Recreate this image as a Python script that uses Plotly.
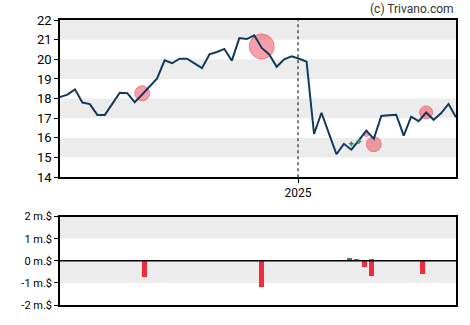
import pandas as pd
import plotly.graph_objects as go
from plotly.subplots import make_subplots

# Weekly closing prices (USD)
week_start = "2024-05-23"
prices = [18.08, 18.2, 18.47, 17.8, 17.72, 17.17, 17.17, 17.72, 18.3, 18.28,
          17.82, 18.21, 18.62, 19.03, 19.95, 19.8, 20.03, 20.03, 19.79, 19.55,
          20.25, 20.37, 20.53, 19.93, 21.08, 21.03, 21.22, 20.58, 20.25, 19.62,
          20.0, 20.15, 20.03, 19.88, 16.2, 17.28, 16.22, 15.17, 15.7, 15.4,
          15.87, 16.37, 15.95, 17.12, 17.15, 17.18, 16.12, 17.08, 16.85, 17.29,
          16.92, 17.25, 17.73, 17.05]
dates = pd.date_range(week_start, periods=len(prices), freq="7D")

# Insider sales shown on the price line (week, price level, marker size)
sell_dates = ["2024-08-08", "2024-11-28", "2025-03-06", "2025-03-13", "2025-05-01"]
sell_levels = [18.27, 20.65, 16.2, 15.68, 17.3]
sell_sizes = [15, 25, 5, 15, 13]

# Insider purchases shown on the price line
buy_dates = ["2025-02-20", "2025-02-27"]
buy_levels = [15.7, 15.82]

# Transaction volume in millions of dollars
vol_buy_dates = ["2025-02-18", "2025-02-25", "2025-03-11"]
vol_buy = [0.14, 0.1, 0.1]
vol_sell_dates = ["2024-08-10", "2024-11-28", "2025-03-04", "2025-03-11", "2025-04-28"]
vol_sell = [-0.73, -1.18, -0.25, -0.65, -0.6]

price_ticks = [14, 15, 16, 17, 18, 19, 20, 21, 22]
vol_ticks = [-2, -1, 0, 1, 2]
vol_tick_text = ["-2 m.$", "-1 m.$", "0 m.$", "1 m.$", "2 m.$"]

x_range = [dates[0], dates[-1]]
FONT = "Roboto, Arial, sans-serif"
STRIPE = "#ececec"
RED = "#ef2b40"
GREEN = "#2e8b57"
LINE = "#133a5c"

fig = make_subplots(rows=2, cols=1, shared_xaxes=False)

fig.add_trace(go.Scatter(
    x=sell_dates, y=sell_levels, mode="markers",
    marker=dict(size=sell_sizes, color="rgba(236,40,58,0.62)",
                line=dict(color="rgba(236,40,58,0.75)", width=1)),
    hoverinfo="skip", showlegend=False), row=1, col=1)
fig.add_trace(go.Scatter(
    x=dates, y=prices, mode="lines",
    line=dict(color=LINE, width=2), showlegend=False), row=1, col=1)
fig.add_trace(go.Scatter(
    x=buy_dates, y=buy_levels, mode="markers",
    marker=dict(size=4, color=GREEN, symbol="cross"),
    showlegend=False), row=1, col=1)

bar_w = 4.7 * 86400000
fig.add_trace(go.Bar(x=vol_buy_dates, y=vol_buy, width=bar_w,
                     marker=dict(color=GREEN, line=dict(width=0)),
                     showlegend=False), row=2, col=1)
fig.add_trace(go.Bar(x=vol_sell_dates, y=vol_sell, width=bar_w,
                     marker=dict(color=RED, line=dict(width=0)),
                     showlegend=False), row=2, col=1)

shapes = []
# Alternating horizontal stripes
for lo in [15, 17, 19, 21]:
    shapes.append(dict(type="rect", xref="x domain", yref="y", x0=0, x1=1,
                       y0=lo, y1=lo + 1, fillcolor=STRIPE, line=dict(width=0),
                       layer="below"))
for lo in [-1, 1]:
    shapes.append(dict(type="rect", xref="x2 domain", yref="y2", x0=0, x1=1,
                       y0=lo, y1=lo + 1, fillcolor=STRIPE, line=dict(width=0),
                       layer="below"))
# Year boundary marker
shapes.append(dict(type="line", xref="x", yref="y domain", x0="2025-01-01",
                   x1="2025-01-01", y0=0, y1=1,
                   line=dict(color="black", width=1, dash="dot")))
# Zero line of the volume panel
shapes.append(dict(type="line", xref="x2 domain", yref="y2", x0=0, x1=1,
                   y0=0, y1=0, line=dict(color="black", width=1.5)))

axis_common = dict(showline=True, linecolor="black", linewidth=1.5,
                   mirror=True, showgrid=False, zeroline=False,
                   ticks="outside", ticklen=4, tickcolor="black")

fig.update_xaxes(range=x_range, tickvals=["2025-01-01"], ticktext=["2025"],
                 tickfont=dict(size=12, color="black", family=FONT),
                 row=1, col=1, **axis_common)
fig.update_xaxes(range=x_range, showticklabels=False, ticks="",
                 showline=True, linecolor="black", linewidth=1.5, mirror=True,
                 showgrid=False, zeroline=False, row=2, col=1)
fig.update_yaxes(range=[14, 22], tickvals=price_ticks, domain=[0.4483, 1.0],
                 tickfont=dict(size=13, color="black", family=FONT),
                 row=1, col=1, **axis_common)
fig.update_yaxes(range=[-2, 2], tickvals=vol_ticks, ticktext=vol_tick_text,
                 domain=[0.0, 0.3103],
                 tickfont=dict(size=11, color="black", family=FONT),
                 row=2, col=1, **axis_common)

fig.update_layout(
    width=470, height=325,
    margin=dict(l=60, r=14, t=20, b=15),
    paper_bgcolor="white", plot_bgcolor="white",
    barmode="relative", bargap=0,
    shapes=shapes,
    font=dict(family=FONT),
    annotations=[dict(text="(c) Trivano.com", xref="paper", yref="paper",
                      x=1, y=1.038, xanchor="right", yanchor="middle",
                      showarrow=False,
                      font=dict(size=12, color="#333333", family=FONT))],
)

fig.write_html("out.html")
